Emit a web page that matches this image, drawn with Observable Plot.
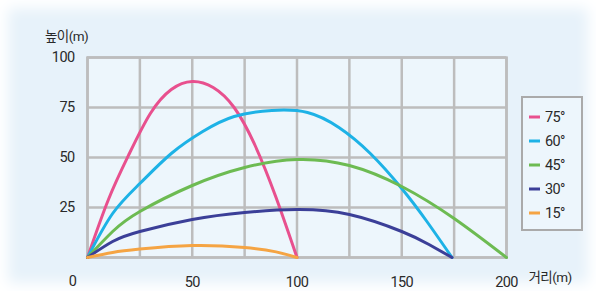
<!DOCTYPE html>
<html>
<head>
<meta charset="utf-8">
<script src="https://cdn.jsdelivr.net/npm/d3@7"></script>
<script src="https://cdn.jsdelivr.net/npm/@observablehq/plot@0.6"></script>
<style>
  html, body { margin: 0; padding: 0; }
  #wrap {
    position: relative; width: 596px; height: 291px; overflow: hidden;
    background: #e7f2fa;
    box-shadow: inset 0 0 14px 8px #ffffff;
  }
</style>
</head>
<body>
<div id="wrap"></div>
<script>
// ---- data ----
const angles = ["75°", "60°", "45°", "30°", "15°"];
const xTicks = [50, 100, 150, 200];
const yTicks = [25, 50, 75, 100];
const gridX = [0, 25, 50, 75, 100, 125, 150, 175, 200];
const gridY = [0, 25, 50, 75, 100];

const path75 = [[0,0],[10,29],[20,52],[30,72],[40,84],[50,88],[60,85],[70,75],[80,56],[90,30],[100,0]];
const path60 = [[0,0],[12,22],[25,37],[40,52],[55,63],[70,70.5],[88,73.5],[105,72.5],[120,65],[135,52],[150,34.5],[162,18],[174,0]];
const path45 = [[0,0],[12,13],[25,23],[50,36],[75,45],[100,49],[125,46],[150,35.5],[175,19.5],[200,0]];
const path30 = [[0,0],[12,8],[25,13],[50,19],[75,22.5],[100,24],[125,21.5],[150,13],[163,6.5],[174,0]];
const path15 = [[0,0],[12,2.5],[25,4.2],[50,6],[75,5],[90,2.8],[100,0]];

const colors = ["#e8508e", "#1db2e6", "#6dbb52", "#3b3f98", "#f5a443"];

const paths = [path75, path60, path45, path30, path15];
const table = [];
paths.forEach((p, i) => p.forEach(([x, y]) => table.push({angle: angles[i], x, y})));

const gridColor = "#bdbdbd";
const textColor = "#2a2a2a";
const font = "Roboto, 'Noto Sans CJK KR', sans-serif";

const chart = Plot.plot({
  width: 596,
  height: 291,
  marginLeft: 87,
  marginRight: 90,
  marginTop: 57,
  marginBottom: 34,
  style: {background: "transparent", fontFamily: font},
  x: {domain: [0, 200]},
  y: {domain: [0, 100]},
  color: {domain: angles, range: colors},
  marks: [
    Plot.frame({fill: "#edf6fc"}),
    Plot.ruleX(gridX, {stroke: gridColor, strokeWidth: 2.5}),
    Plot.ruleY(gridY, {stroke: gridColor, strokeWidth: 2.5}),
    Plot.frame({stroke: gridColor, strokeWidth: 2.5}),
    Plot.line(table, {x: "x", y: "y", z: "angle", stroke: "angle", strokeWidth: 3, curve: "natural"}),
    Plot.axisX(xTicks, {tickSize: 0, tickPadding: 19, fontSize: 14.5, fill: textColor, label: null}),
    Plot.axisY(yTicks, {tickSize: 0, tickPadding: 13, fontSize: 14.5, fill: textColor, label: null}),
    Plot.text(["0"], {x: 0, y: 0, dx: -15, dy: 24, fontSize: 14.5, fill: textColor}),
    Plot.text(["높이(m)"], {frameAnchor: "top-left", dx: -21, dy: -26, textAnchor: "middle", fontSize: 13.5, fill: textColor}),
    Plot.text(["거리(m)"], {frameAnchor: "bottom-right", dx: 22, dy: 24, textAnchor: "start", fontSize: 13.5, fill: textColor})
  ]
});

// legend box drawn into the same svg
const svg = d3.select(chart);
svg.selectAll("text").attr("letter-spacing", "-0.6");
const lg = svg.append("g").attr("text-anchor", "start");
lg.append("rect").attr("x", 522).attr("y", 97).attr("width", 60).attr("height", 133)
  .attr("fill", "#edf6fc").attr("stroke", "#aaaaaa").attr("stroke-width", 2);
angles.forEach((a, i) => {
  const cy = 117 + i * 24;
  lg.append("line").attr("x1", 529).attr("x2", 540).attr("y1", cy).attr("y2", cy)
    .attr("stroke", colors[i]).attr("stroke-width", 3);
  lg.append("text").attr("x", 545).attr("y", cy).attr("dy", "0.36em")
    .attr("font-size", 14.5).attr("fill", textColor).attr("letter-spacing", "-0.6")
    .attr("text-anchor", "start").text(a);
});

document.getElementById("wrap").appendChild(chart);
</script>
</body>
</html>
